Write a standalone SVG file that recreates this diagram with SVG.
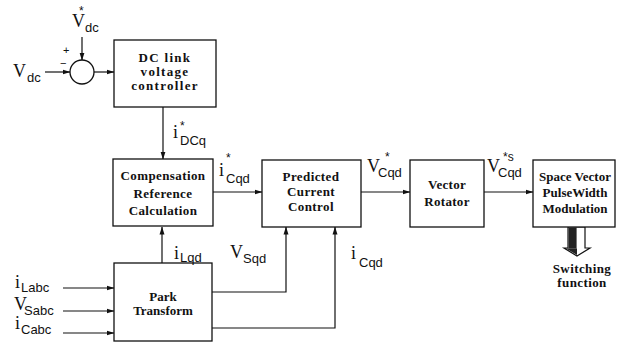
<svg xmlns="http://www.w3.org/2000/svg" width="629" height="348" viewBox="0 0 629 348">
<defs>
<marker id="ah" markerWidth="8" markerHeight="6" refX="7.5" refY="3" orient="auto" markerUnits="userSpaceOnUse">
<path d="M0,0.5 L8,3 L0,5.5 Z" fill="#111"/>
</marker>
</defs>
<style>
.box{fill:#fff;stroke:#111;stroke-width:1.3}
.ln{fill:none;stroke:#111;stroke-width:1.2}
.bt{font-family:"Liberation Serif",serif;font-weight:bold;font-size:13px;fill:#111;text-anchor:middle}
.lb{font-family:"Liberation Serif",serif;font-size:18px;fill:#111}
.sb{font-family:"Liberation Sans",sans-serif;font-size:13px}
.st{font-family:"Liberation Sans",sans-serif;font-size:12px}
.pm{font-family:"Liberation Sans",sans-serif;font-size:11px;fill:#111}
</style>
<rect width="629" height="348" fill="#fff"/>

<g id="connectors">
<line class="ln" x1="45" y1="72" x2="70" y2="72" marker-end="url(#ah)"/>
<line class="ln" x1="82" y1="37" x2="82" y2="60" marker-end="url(#ah)"/>
<line class="ln" x1="94" y1="72" x2="114" y2="72" marker-end="url(#ah)"/>
<line class="ln" x1="163" y1="107" x2="163" y2="159" marker-end="url(#ah)"/>
<line class="ln" x1="213" y1="192" x2="262" y2="192" marker-end="url(#ah)"/>
<line class="ln" x1="361" y1="192" x2="410" y2="192" marker-end="url(#ah)"/>
<line class="ln" x1="484" y1="192" x2="533" y2="192" marker-end="url(#ah)"/>
<line class="ln" x1="162" y1="263" x2="162" y2="227" marker-end="url(#ah)"/>
<polyline class="ln" points="212,292 286,292 286,227" marker-end="url(#ah)"/>
<polyline class="ln" points="212,328 335,328 335,227" marker-end="url(#ah)"/>
<line class="ln" x1="63" y1="288" x2="114" y2="288" marker-end="url(#ah)"/>
<line class="ln" x1="63" y1="311" x2="114" y2="311" marker-end="url(#ah)"/>
<line class="ln" x1="63" y1="333" x2="114" y2="333" marker-end="url(#ah)"/>
<g id="switch-arrow">
<path d="M568,227 L585,227 L585,248 L590,248 L577,256 L564,248 L568,248 Z" fill="#fff" stroke="#111" stroke-width="1.2"/>
<rect x="568.6" y="227.6" width="8" height="21" fill="#222"/>
<path d="M566,248.6 L577,248.6 L577,255 Z" fill="#222"/>
</g>
</g>

<g id="sum">
<circle cx="82" cy="72" r="12" fill="#fff" stroke="#111" stroke-width="1.3"/>
<text x="63" y="53.5" class="pm">+</text>
<text x="60" y="66.5" class="pm">−</text>
</g>

<g id="dc-link">
<rect class="box" x="114" y="40" width="102" height="67"/>
<text class="bt" x="165" y="62" font-size="13" letter-spacing="1.3">DC link</text>
<text class="bt" x="165" y="76" font-size="13" letter-spacing="1.3">voltage</text>
<text class="bt" x="165" y="90" font-size="13" letter-spacing="1.3">controller</text>
</g>

<g id="compensation">
<rect class="box" x="113" y="159" width="100" height="67"/>
<text class="bt" x="163" y="180" font-size="14.5" letter-spacing="0.4">Compensation</text>
<text class="bt" x="163" y="198" font-size="14.5" letter-spacing="0.4">Reference</text>
<text class="bt" x="163" y="215" font-size="14.5" letter-spacing="0.4">Calculation</text>
</g>

<g id="predicted">
<rect class="box" x="262" y="160" width="99" height="67"/>
<text class="bt" x="311" y="181" letter-spacing="0.4">Predicted</text>
<text class="bt" x="311" y="196" letter-spacing="0.4">Current</text>
<text class="bt" x="311" y="211" letter-spacing="0.4">Control</text>
</g>

<g id="rotator">
<rect class="box" x="410" y="160" width="74" height="67"/>
<text class="bt" x="447" y="189" letter-spacing="0.3">Vector</text>
<text class="bt" x="447" y="206" letter-spacing="0.3">Rotator</text>
</g>

<g id="svpwm">
<rect class="box" x="533" y="160" width="82" height="67"/>
<text class="bt" x="575" y="181">Space Vector</text>
<text class="bt" x="575" y="197">PulseWidth</text>
<text class="bt" x="575" y="213">Modulation</text>
</g>

<g id="park">
<rect class="box" x="114" y="263" width="98" height="78"/>
<text class="bt" x="163" y="301" font-size="10.5">Park<tspan x="163" y="315">Transform</tspan></text>
</g>

<g id="switching-label">
<text class="bt" x="582" y="273" letter-spacing="0.4">Switching<tspan x="582" y="287">function</tspan></text>
</g>

<g id="labels">
<text class="lb" x="13" y="77">V<tspan class="sb" x="27" y="82">dc</tspan></text>
<text class="lb" x="72" y="27">V<tspan class="st" x="79" y="15">*</tspan><tspan class="sb" x="85" y="32">dc</tspan></text>
<text class="lb" x="173" y="138">i<tspan class="st" x="180" y="130">*</tspan><tspan class="sb" x="180" y="145">DCq</tspan></text>
<text class="lb" x="219" y="176">i<tspan class="st" x="226" y="162">*</tspan><tspan class="sb" x="226" y="183">Cqd</tspan></text>
<text class="lb" x="367" y="172">V<tspan class="st" x="385" y="161">*</tspan><tspan class="sb" x="378" y="177">Cqd</tspan></text>
<text class="lb" x="487" y="172">V<tspan class="st" x="503" y="161">*s</tspan><tspan class="sb" x="498" y="177">Cqd</tspan></text>
<text class="lb" x="174" y="259">i<tspan class="sb" x="180" y="262">Lqd</tspan></text>
<text class="lb" x="230" y="258">V<tspan class="sb" x="243" y="263">Sqd</tspan></text>
<text class="lb" x="351" y="259">i<tspan class="sb" x="359" y="267">Cqd</tspan></text>
<text class="lb" x="15" y="288">i<tspan class="sb" x="21" y="292" font-size="12">Labc</tspan></text>
<text class="lb" x="14" y="310" font-size="16">V<tspan class="sb" x="24" y="315" font-size="12">Sabc</tspan></text>
<text class="lb" x="15" y="329">i<tspan class="sb" x="21" y="334" font-size="12">Cabc</tspan></text>
</g>
</svg>
